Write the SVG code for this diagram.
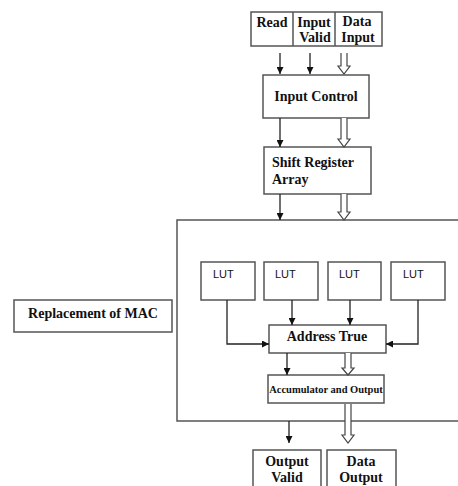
<svg xmlns="http://www.w3.org/2000/svg" width="458" height="486" viewBox="0 0 458 486">
  <defs>
    <marker id="head" viewBox="0 0 10 10" refX="10" refY="5" markerWidth="7" markerHeight="7" markerUnits="userSpaceOnUse" orient="auto">
      <path d="M0,0 L10,5 L0,10 Z" fill="#111"/>
    </marker>
    <style>
      .box { fill: #fff; stroke: #555; stroke-width: 1.5; }
      .t { font-family: "Liberation Serif", "Times New Roman", serif; font-weight: bold; font-size: 14px; fill: #111; }
      .lut { font-family: "Liberation Sans", Arial, sans-serif; font-size: 11px; fill: #111; }
      .wire { fill: none; stroke: #222; stroke-width: 1.3; marker-end: url(#head); }
      .bus { fill: #fff; stroke: #444; stroke-width: 1.2; }
    </style>
  </defs>
  <rect width="458" height="486" fill="#fff"/>

  <!-- inputs -->
  <g id="inputs">
    <rect class="box" x="251" y="12" width="131" height="34"/>
    <line x1="293" y1="12" x2="293" y2="46" stroke="#555" stroke-width="1.5"/>
    <line x1="335" y1="12" x2="335" y2="46" stroke="#555" stroke-width="1.5"/>
    <text class="t" x="272" y="27" text-anchor="middle">Read</text>
    <text class="t" x="314" y="27" text-anchor="middle">Input</text>
    <text class="t" x="315" y="42" text-anchor="middle">Valid</text>
    <text class="t" x="357" y="26" text-anchor="middle">Data</text>
    <text class="t" x="358" y="42" text-anchor="middle">Input</text>
  </g>

  <g id="input-control">
    <rect class="box" x="263" y="75" width="106" height="43"/>
    <text class="t" x="316" y="101" text-anchor="middle">Input Control</text>
  </g>

  <g id="shift-register">
    <rect class="box" x="264" y="147" width="107" height="47"/>
    <text class="t" x="272" y="167">Shift Register</text>
    <text class="t" x="272" y="184">Array</text>
  </g>

  <g id="mac-block">
    <rect class="box" x="177" y="220" width="290" height="201"/>
  </g>

  <g id="replacement-label">
    <rect class="box" x="14" y="300" width="158" height="32"/>
    <text class="t" x="93" y="318" text-anchor="middle">Replacement of MAC</text>
  </g>

  <g id="lut1">
    <rect class="box" x="201" y="262" width="54" height="38"/>
    <text class="lut" x="213" y="278">LUT</text>
  </g>
  <g id="lut2">
    <rect class="box" x="264" y="262" width="54" height="38"/>
    <text class="lut" x="275" y="278">LUT</text>
  </g>
  <g id="lut3">
    <rect class="box" x="328" y="262" width="53" height="38"/>
    <text class="lut" x="339" y="278">LUT</text>
  </g>
  <g id="lut4">
    <rect class="box" x="391" y="262" width="54" height="38"/>
    <text class="lut" x="403" y="278">LUT</text>
  </g>

  <g id="address-true">
    <rect class="box" x="269" y="325" width="117" height="28"/>
    <text class="t" x="327" y="341" text-anchor="middle">Address True</text>
  </g>

  <g id="accumulator">
    <rect class="box" x="268" y="375" width="116" height="28"/>
    <text class="t" x="326" y="393" text-anchor="middle" style="font-size:10.5px">Accumulator and Output</text>
  </g>

  <g id="output-valid">
    <rect class="box" x="253" y="450" width="68" height="45"/>
    <text class="t" x="287" y="466" text-anchor="middle">Output</text>
    <text class="t" x="287" y="482" text-anchor="middle">Valid</text>
  </g>

  <g id="data-output">
    <rect class="box" x="327" y="450" width="69" height="45"/>
    <text class="t" x="361" y="466" text-anchor="middle">Data</text>
    <text class="t" x="361" y="482" text-anchor="middle">Output</text>
  </g>

  <!-- connectors -->
  <g id="connectors">
    <line class="wire" x1="280" y1="53" x2="280" y2="74"/>
    <line class="wire" x1="310" y1="53" x2="310" y2="74"/>
    <path class="bus" d="M341,53 V66 H338 L344,74 L350,66 H347 V53"/>

    <line class="wire" x1="280" y1="118" x2="280" y2="147"/>
    <path class="bus" d="M341,118 V139 H338 L344,147 L350,139 H347 V118"/>

    <line class="wire" x1="280" y1="194" x2="280" y2="220"/>
    <path class="bus" d="M341,194 V212 H338 L344,220 L350,212 H347 V194"/>

    <path class="wire" d="M227,300 V344 H269"/>
    <line class="wire" x1="292" y1="300" x2="292" y2="325"/>
    <line class="wire" x1="350" y1="300" x2="350" y2="325"/>
    <path class="wire" d="M418,300 V344 H386"/>

    <line class="wire" x1="287" y1="353" x2="287" y2="375"/>
    <path class="bus" d="M345,353 V368 H342 L348,375 L354,368 H351 V353"/>

    <line class="wire" x1="289" y1="421" x2="289" y2="443"/>
    <path class="bus" d="M345,404 V435 H342 L348,443 L354,435 H351 V404"/>
  </g>
</svg>
